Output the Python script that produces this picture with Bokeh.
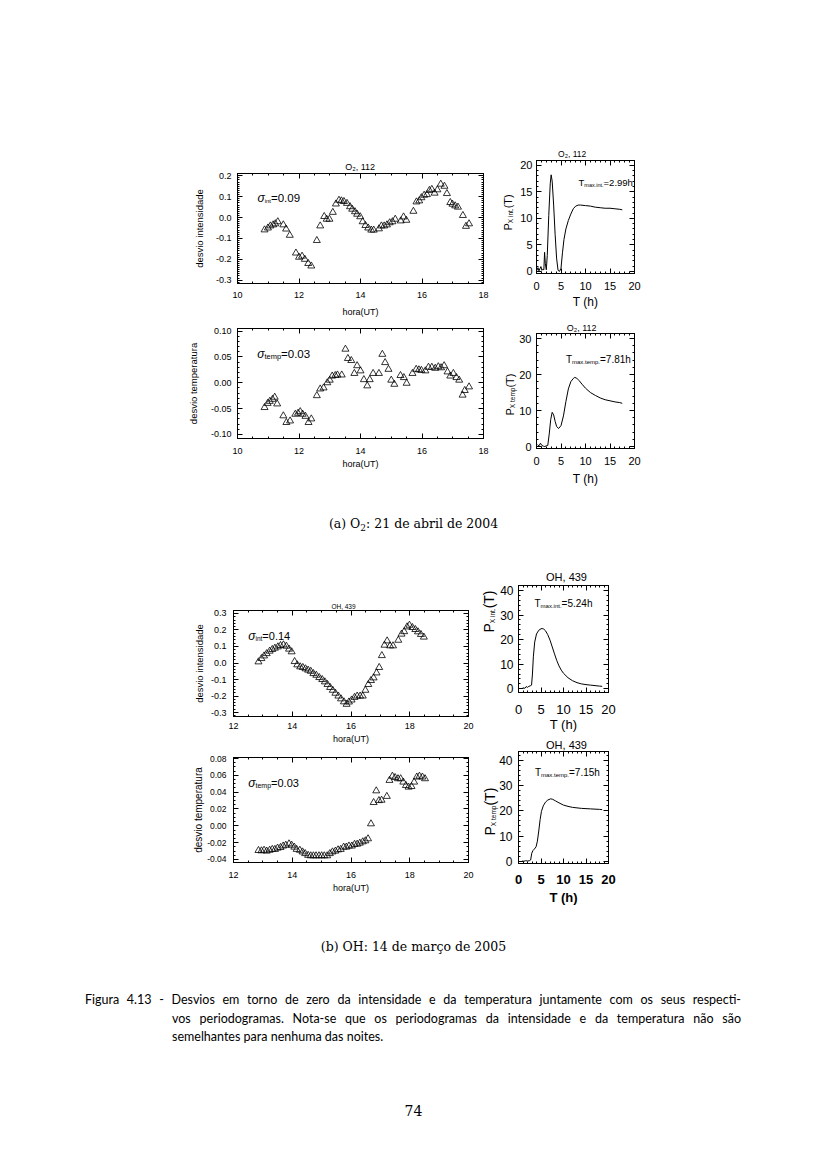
from math import pi
import numpy as np
from bokeh.plotting import figure
from bokeh.models import Label, LinearAxis, FixedTicker, PrintfTickFormatter, Range1d, Spacer, Div
from bokeh.layouts import column, row
from bokeh.embed import file_html
from bokeh.resources import INLINE

FONT = "Liberation Sans"

# ---------------- data ----------------
# (a) O2, 21 April 2004 - intensity deviation
o2_int_hour = [10.88, 10.99, 11.07, 11.16, 11.23, 11.31, 11.49, 11.58, 11.70, 11.90, 12.00, 12.10, 12.19,
               12.30, 12.40, 12.58, 12.69, 12.82, 12.90, 12.99, 13.10, 13.20, 13.30, 13.38, 13.46, 13.56,
               13.66, 13.73, 13.82, 13.89, 13.99, 14.07, 14.16, 14.25, 14.35, 14.43, 14.60, 14.68, 14.77,
               14.86, 14.95, 15.04, 15.13, 15.31, 15.40, 15.49, 15.72, 15.82, 15.91, 15.98, 16.07, 16.16,
               16.24, 16.32, 16.41, 16.50, 16.61, 16.73, 16.81, 16.92, 16.99, 17.08, 17.17, 17.33, 17.43, 17.53]
o2_int_dev = [-0.059, -0.050, -0.040, -0.035, -0.030, -0.020, -0.035, -0.055, -0.085, -0.170, -0.190, -0.185,
              -0.200, -0.220, -0.232, -0.110, -0.040, 0.005, -0.008, -0.008, 0.025, 0.065, 0.083, 0.080,
              0.077, 0.068, 0.052, 0.040, 0.028, 0.016, 0.004, -0.020, -0.038, -0.050, -0.060, -0.060,
              -0.054, -0.040, -0.040, -0.035, -0.025, -0.020, -0.008, -0.016, 0.003, -0.013, 0.030, 0.075,
              0.080, 0.095, 0.107, 0.110, 0.130, 0.135, 0.117, 0.133, 0.160, 0.150, 0.115, 0.072, 0.064,
              0.056, 0.050, 0.010, -0.042, -0.030]
# (a) O2 - temperature deviation
o2_temp_hour = [10.88, 10.98, 11.05, 11.14, 11.21, 11.29, 11.49, 11.59, 11.71, 11.88, 11.97, 12.04, 12.12,
                12.21, 12.31, 12.40, 12.58, 12.69, 12.80, 12.92, 13.00, 13.08, 13.18, 13.25, 13.39, 13.51,
                13.59, 13.70, 13.80, 13.89, 14.00, 14.11, 14.22, 14.30, 14.41, 14.60, 14.71, 14.80, 14.91,
                15.00, 15.10, 15.30, 15.41, 15.50, 15.69, 15.81, 15.90, 15.98, 16.11, 16.21, 16.32, 16.43,
                16.53, 16.62, 16.72, 16.83, 16.92, 17.02, 17.12, 17.21, 17.32, 17.39, 17.53]
o2_temp_dev = [-0.048, -0.040, -0.036, -0.032, -0.028, -0.041, -0.064, -0.077, -0.074, -0.061, -0.059, -0.056,
               -0.061, -0.065, -0.077, -0.070, -0.025, -0.012, -0.010, 0.000, 0.005, 0.013, 0.014, 0.015,
               0.015, 0.065, 0.047, 0.043, 0.018, 0.033, 0.023, 0.006, -0.006, 0.006, 0.018, 0.018, 0.055,
               0.039, 0.026, 0.005, -0.003, 0.014, 0.010, -0.001, 0.018, 0.026, 0.025, 0.024, 0.023, 0.030,
               0.030, 0.028, 0.031, 0.029, 0.033, 0.021, 0.013, 0.018, 0.010, 0.005, -0.024, -0.015, -0.008]
# (a) O2 - periodograms
o2_int_period = [0.1, 0.3, 0.5, 0.7, 0.9, 1.1, 1.3, 1.5, 1.65, 1.8, 2.0, 2.2, 2.5, 2.8, 2.99, 3.2, 3.5, 3.8,
                 4.1, 4.4, 4.7, 5.0, 5.3, 5.6, 6.0, 6.5, 7.0, 7.5, 8.0, 8.5, 9.0, 10.0, 11.0, 12.0, 13.0,
                 14.0, 15.0, 16.0, 17.0, 17.5]
o2_int_power = [0.2, 0.7, 0.1, 0.5, 0.9, 0.2, 0.4, 0.3, 3.6, 1.5, 0.3, 3.0, 10.5, 16.5, 18.2, 17.0, 12.5, 7.0,
                2.5, 0.2, 0.0, 0.6, 3.5, 6.0, 8.0, 9.6, 10.8, 11.8, 12.3, 12.5, 12.5, 12.4, 12.3, 12.1, 12.0,
                11.9, 11.9, 11.8, 11.7, 11.6]
o2_temp_period = [0.2, 0.5, 0.8, 1.1, 1.4, 1.7, 2.0, 2.3, 2.6, 2.9, 3.2, 3.5, 3.8, 4.1, 4.5, 5.0, 5.5, 6.0,
                  6.5, 7.0, 7.5, 7.81, 8.2, 8.7, 9.3, 10.0, 11.0, 12.0, 13.0, 14.0, 15.0, 16.0, 17.0, 17.5]
o2_temp_power = [0.5, 0.2, 0.9, 0.3, 0.1, 0.0, 0.2, 0.3, 3.5, 7.5, 9.5, 8.8, 7.0, 5.6, 5.0, 5.8, 8.5, 12.5,
                 16.0, 18.0, 18.9, 19.2, 19.0, 18.3, 17.3, 16.2, 15.0, 14.2, 13.5, 13.0, 12.7, 12.4, 12.2, 12.0]

# (b) OH, 14 March 2005 - intensity deviation
oh_int_hour = [12.85, 12.95, 13.04, 13.13, 13.23, 13.32, 13.41, 13.51, 13.60, 13.70, 13.80, 13.89, 13.98,
               14.08, 14.17, 14.27, 14.36, 14.45, 14.54, 14.63, 14.72, 14.82, 14.92, 15.02, 15.11, 15.20,
               15.29, 15.38, 15.47, 15.57, 15.66, 15.76, 15.85, 15.93, 16.02, 16.12, 16.21, 16.31, 16.40,
               16.49, 16.59, 16.68, 16.77, 16.87, 16.96, 17.05, 17.14, 17.23, 17.33, 17.43, 17.61, 17.72,
               17.81, 17.91, 17.99, 18.09, 18.19, 18.28, 18.38, 18.48]
oh_int_dev = [0.007, 0.027, 0.043, 0.057, 0.072, 0.082, 0.090, 0.098, 0.106, 0.110, 0.102, 0.084, 0.068,
              0.009, -0.011, -0.023, -0.027, -0.035, -0.043, -0.050, -0.064, -0.074, -0.088, -0.100, -0.114,
              -0.130, -0.148, -0.165, -0.183, -0.200, -0.217, -0.235, -0.250, -0.236, -0.224, -0.208, -0.200,
              -0.200, -0.200, -0.165, -0.130, -0.106, -0.090, -0.060, -0.027, 0.045, 0.108, 0.134, 0.104,
              0.104, 0.138, 0.175, 0.190, 0.219, 0.229, 0.215, 0.203, 0.189, 0.173, 0.157]
# (b) OH - temperature deviation
oh_temp_hour = [12.85, 12.95, 13.04, 13.13, 13.23, 13.32, 13.41, 13.50, 13.60, 13.69, 13.78, 13.89, 13.98,
                14.07, 14.15, 14.26, 14.35, 14.44, 14.54, 14.63, 14.72, 14.81, 14.91, 15.00, 15.09, 15.19,
                15.28, 15.37, 15.47, 15.56, 15.65, 15.75, 15.84, 15.93, 16.03, 16.12, 16.21, 16.30, 16.40,
                16.49, 16.58, 16.68, 16.77, 16.86, 16.95, 17.04, 17.22, 17.31, 17.41, 17.50, 17.60, 17.69,
                17.78, 17.87, 17.96, 18.06, 18.15, 18.24, 18.33, 18.43, 18.52]
oh_temp_dev = [-0.0293, -0.0297, -0.0290, -0.0300, -0.0290, -0.0280, -0.0280, -0.0265, -0.0257, -0.0240,
               -0.0230, -0.0214, -0.0230, -0.0253, -0.0280, -0.0290, -0.0310, -0.0330, -0.0350, -0.0356,
               -0.0356, -0.0356, -0.0356, -0.0356, -0.0356, -0.0356, -0.0330, -0.0310, -0.0300, -0.0285,
               -0.0280, -0.0253, -0.0253, -0.0240, -0.0240, -0.0220, -0.0218, -0.0206, -0.0190, -0.0178,
               -0.0154, 0.0024, 0.0277, 0.0416, 0.0300, 0.0305, 0.0350, 0.0540, 0.0590, 0.0574, 0.0560,
               0.0560, 0.0520, 0.0480, 0.0460, 0.0467, 0.0520, 0.0580, 0.0590, 0.0580, 0.0560]
# (b) OH - periodograms
oh_int_period = [0.8, 1.1, 1.4, 1.7, 2.0, 2.3, 2.6, 2.9, 3.1, 3.3, 3.6, 4.0, 4.5, 5.0, 5.24, 5.6, 6.0, 6.5,
                 7.0, 7.5, 8.0, 8.5, 9.0, 9.5, 10.0, 11.0, 12.0, 13.0, 14.0, 15.0, 16.0, 17.0, 18.0, 18.6]
oh_int_power = [0.1, 0.4, 0.2, 0.9, 0.6, 1.0, 1.2, 1.5, 6.0, 13.0, 19.0, 22.3, 23.8, 24.4, 24.5, 24.3, 23.6,
                22.0, 19.8, 17.0, 14.2, 11.5, 9.3, 7.6, 6.3, 4.5, 3.3, 2.5, 2.0, 1.7, 1.5, 1.3, 1.1, 1.0]
oh_temp_period = [0.8, 1.2, 1.6, 2.0, 2.4, 2.7, 2.95, 3.2, 3.5, 3.9, 4.2, 4.5, 4.8, 5.1, 5.5, 6.0, 6.5, 7.15,
                  7.6, 8.2, 9.0, 10.0, 11.0, 12.0, 13.0, 14.0, 15.0, 16.0, 17.0, 18.0, 18.6]
oh_temp_power = [0.1, 0.0, 0.2, 0.1, 0.2, 0.5, 3.2, 4.2, 4.8, 5.7, 8.0, 12.0, 16.5, 19.8, 22.0, 23.5, 24.3,
                 24.8, 24.6, 24.0, 23.2, 22.3, 21.8, 21.4, 21.2, 21.0, 20.9, 20.8, 20.7, 20.6, 20.5]

# tick labels
o2_hour_ticks = [10, 12, 14, 16, 18]
oh_hour_ticks = [12, 14, 16, 18, 20]
period_ticks = [0, 5, 10, 15, 20]
o2_int_ticks = [-0.3, -0.2, -0.1, 0.0, 0.1, 0.2]
o2_temp_ticks = [-0.10, -0.05, 0.00, 0.05, 0.10]
oh_int_ticks = [-0.3, -0.2, -0.1, 0.0, 0.1, 0.2, 0.3]
oh_temp_ticks = [-0.04, -0.02, 0.00, 0.02, 0.04, 0.06, 0.08]
o2_int_pow_ticks = [0, 5, 10, 15, 20]
o2_temp_pow_ticks = [0, 10, 20, 30]
oh_pow_ticks = [0, 10, 20, 30, 40]

# ---------------- layout geometry (page pixels) ----------------
SPEC = {
    "A1": dict(box=(184, 151, 495, 320), frame=(233, 173, 483, 283), xr=(10, 18), yr=(-0.316, 0.211)),
    "A2": dict(box=(184, 320, 495, 475), frame=(233, 328, 483, 438), xr=(10, 18), yr=(-0.108, 0.105)),
    "A3": dict(box=(498, 144, 700, 312), frame=(536, 160, 634, 273), xr=(0, 20), yr=(-0.4, 20.9)),
    "A4": dict(box=(498, 312, 700, 490), frame=(534, 333, 634, 448), xr=(0, 20), yr=(-0.55, 31.4)),
    "B1": dict(box=(190, 592, 474, 748), frame=(230, 610, 468, 716), xr=(12, 20), yr=(-0.324, 0.318)),
    "B2": dict(box=(190, 748, 474, 898), frame=(230, 757, 468, 862), xr=(12, 20), yr=(-0.0436, 0.0812)),
    "B3": dict(box=(474, 566, 690, 736), frame=(518, 585, 608, 692), xr=(0, 20), yr=(-1.5, 42)),
    "B4": dict(box=(474, 736, 690, 910), frame=(517, 751, 612, 863), xr=(0, 20), yr=(-0.9, 43.6)),
}

HW = {' ': 278, '(': 333, ')': 333, ',': 278, '-': 333, '.': 278, '=': 584, '₂': 400,
      'A': 667, 'H': 722, 'O': 778, 'P': 667, 'T': 611, 'X': 667, 'U': 722,
      'a': 556, 'd': 556, 'e': 556, 'h': 556, 'i': 222, 'm': 833, 'n': 556, 'o': 556,
      'p': 556, 'r': 333, 's': 500, 't': 278, 'v': 500, 'x': 500, 'σ': 600}


def tw(s, size):
    return sum(HW.get(c, 556) for c in s) * size / 1000.0


def page_to_data(sp, px, py):
    fl, ft, fr, fb = sp["frame"]
    x0, x1 = sp["xr"]
    y0, y1 = sp["yr"]
    return x0 + (px - fl) / (fr - fl) * (x1 - x0), y1 - (py - ft) / (fb - ft) * (y1 - y0)


def rich(p, sp, px, py, parts, vertical=False, center=False, place="center"):
    total = sum(tw(t, s) for t, s, d, st in parts)
    if center:
        if vertical:
            py += total / 2
        else:
            px -= total / 2
    x, y = page_to_data(sp, px, py)
    adv = 0.0
    for t, s, d, st in parts:
        kw = dict(x=x, y=y, text=t, text_font=FONT, text_font_size=f"{s}px", text_font_style=st,
                  text_color="black", text_align="left", text_baseline="alphabetic")
        if vertical:
            lab = Label(angle=pi / 2, x_offset=d, y_offset=adv, **kw)
        else:
            lab = Label(x_offset=adv, y_offset=-d, **kw)
        p.add_layout(lab, place)
        adv += tw(t, s)


def setup_axis(ax, ticks, minor, fmt, fs, std, show=True, bold=False):
    ax.ticker = FixedTicker(ticks=ticks, minor_ticks=minor)
    ax.formatter = PrintfTickFormatter(format=fmt)
    ax.major_tick_in = 5
    ax.major_tick_out = 0
    ax.minor_tick_in = 2
    ax.minor_tick_out = 0
    ax.axis_line_color = "black"
    ax.major_tick_line_color = "black"
    ax.minor_tick_line_color = "black"
    ax.major_label_text_font = FONT
    if show:
        ax.major_label_text_color = "black"
        ax.major_label_text_font_size = f"{fs}px"
        ax.major_label_standoff = std
        ax.major_label_text_font_style = "bold" if bold else "normal"
    else:
        ax.major_label_text_color = None
        ax.major_label_text_alpha = 0
        ax.major_label_text_font_size = "1px"
        ax.major_label_standoff = 0


def set_label(ax, text, fs, std, bold=False):
    ax.axis_label = text
    ax.axis_label_text_font = FONT
    ax.axis_label_text_font_size = f"{fs}px"
    ax.axis_label_text_font_style = "bold" if bold else "normal"
    ax.axis_label_text_color = "black"
    ax.axis_label_standoff = std


def set_title(p, sp, text, fs, center_x, standoff):
    fl = sp["frame"][0]
    left = center_x - tw(text, fs) / 2
    p.title.text = text
    p.title.text_font = FONT
    p.title.text_font_size = f"{fs}px"
    p.title.text_font_style = "normal"
    p.title.text_color = "black"
    p.title.align = "left"
    p.title.offset = left - fl
    p.title.standoff = standoff


def make_fig(sp, xt, xm, yt, ym, xfmt, yfmt, xfs, yfs, xstd, ystd, xbold=False):
    L, T, R, B = sp["box"]
    fl, ft, fr, fb = sp["frame"]
    p = figure(width=R - L, height=B - T, x_range=Range1d(*sp["xr"]), y_range=Range1d(*sp["yr"]),
               output_backend="svg", toolbar_location=None, tools="",
               min_border_left=fl - L, min_border_right=R - fr, min_border_top=ft - T,
               min_border_bottom=B - fb, background_fill_color="white", border_fill_color="white",
               outline_line_color="black", outline_line_width=1)
    p.xgrid.visible = False
    p.ygrid.visible = False
    top = LinearAxis()
    right = LinearAxis()
    p.add_layout(top, "above")
    p.add_layout(right, "right")
    setup_axis(p.below[0], xt, xm, xfmt, xfs, xstd, True, xbold)
    setup_axis(top, xt, xm, xfmt, xfs, 0, False)
    setup_axis(p.left[0], yt, ym, yfmt, yfs, ystd, True)
    setup_axis(right, yt, ym, yfmt, yfs, 0, False)
    return p


def mticks(a, b, step):
    return [round(v, 4) for v in np.arange(a, b + step / 2, step)]


def triangles(p, x, y):
    p.scatter(x, y, marker="triangle", size=7, fill_color=None, line_color="black", line_width=0.8)


# ---------------- (a) O2 ----------------
sA1 = SPEC["A1"]
pA1 = make_fig(sA1, o2_hour_ticks, mticks(10, 18, 0.5), o2_int_ticks, mticks(-0.31, 0.21, 0.01),
               "%d", "%.1f", 9, 9, 8, 6)
set_label(pA1.below[0], "hora(UT)", 9, 6)
set_label(pA1.left[0], "desvio intensidade", 9.5, 8)
triangles(pA1, o2_int_hour, o2_int_dev)
set_title(pA1, sA1, "O₂, 112", 9, 356, 3)
rich(pA1, sA1, 253.3, 197.7, [("σ", 12, 0, "italic"), ("int", 6, 3, "normal"), ("=0.09", 11.5, 0, "normal")])

sA2 = SPEC["A2"]
pA2 = make_fig(sA2, o2_hour_ticks, mticks(10, 18, 0.5), o2_temp_ticks, mticks(-0.10, 0.10, 0.01),
               "%d", "%.2f", 9, 9, 9, 6)
set_label(pA2.below[0], "hora(UT)", 9, 2)
set_label(pA2.left[0], "desvio temperatura", 9.5, 9)
triangles(pA2, o2_temp_hour, o2_temp_dev)
rich(pA2, sA2, 253, 353.3, [("σ", 12, 0, "italic"), ("temp", 7.5, 3, "normal"), ("=0.03", 11.5, 0, "normal")])

sA3 = SPEC["A3"]
pA3 = make_fig(sA3, period_ticks, mticks(0, 20, 1), o2_int_pow_ticks, mticks(0, 20, 1),
               "%d", "%d", 11, 11, 8, 4)
set_label(pA3.below[0], "T (h)", 12, 2)
pA3.line(o2_int_period, o2_int_power, line_color="black", line_width=1)
set_title(pA3, sA3, "O₂, 112", 8.5, 572, 3)
rich(pA3, sA3, 578, 182.3, [("T", 9.5, 0, "normal"), ("max.int.", 5.5, 2.5, "normal"), ("=2.99h", 9.5, 0, "normal")])
rich(pA3, sA3, 507.3, 230, [("P", 11, 0, "normal"), ("X int.", 6.5, 3, "normal"), ("(T)", 11, 0, "normal")],
     vertical=True, place="right")

sA4 = SPEC["A4"]
pA4 = make_fig(sA4, period_ticks, mticks(0, 20, 1), o2_temp_pow_ticks, mticks(0, 30, 2),
               "%d", "%d", 11, 11, 8, 5)
set_label(pA4.below[0], "T (h)", 12, 4)
pA4.line(o2_temp_period, o2_temp_power, line_color="black", line_width=1)
set_title(pA4, sA4, "O₂, 112", 9, 579.5, 2)
rich(pA4, sA4, 564, 359.3, [("T", 10, 0, "normal"), ("max.temp.", 6, 2.5, "normal"), ("=7.81h", 10, 0, "normal")])
rich(pA4, sA4, 506.7, 415, [("P", 11, 0, "normal"), ("X temp", 6.5, 3, "normal"), ("(T)", 11, 0, "normal")],
     vertical=True, place="right")

# ---------------- (b) OH ----------------
sB1 = SPEC["B1"]
pB1 = make_fig(sB1, oh_hour_ticks, mticks(12, 20, 0.5), oh_int_ticks, mticks(-0.32, 0.32, 0.02),
               "%d", "%.1f", 9, 9, 6, 7)
set_label(pB1.below[0], "hora(UT)", 9, 2)
set_label(pB1.left[0], "desvio intensidade", 9.5, 3)
triangles(pB1, oh_int_hour, oh_int_dev)
set_title(pB1, sB1, "OH, 439", 6.5, 340, 2)
rich(pB1, sB1, 245, 635, [("σ", 12, 0, "italic"), ("int", 6.5, 3, "normal"), ("=0.14", 11, 0, "normal")])

sB2 = SPEC["B2"]
pB2 = make_fig(sB2, oh_hour_ticks, mticks(12, 20, 0.5), oh_temp_ticks, mticks(-0.04, 0.08, 0.005),
               "%d", "%.2f", 9, 8.5, 9, 7)
set_label(pB2.below[0], "hora(UT)", 9, 2)
set_label(pB2.left[0], "desvio temperatura", 10, 0)
triangles(pB2, oh_temp_hour, oh_temp_dev)
rich(pB2, sB2, 245, 782.3, [("σ", 12, 0, "italic"), ("temp", 7, 3, "normal"), ("=0.03", 11, 0, "normal")])

sB3 = SPEC["B3"]
pB3 = make_fig(sB3, period_ticks, mticks(0, 20, 1), oh_pow_ticks, mticks(0, 42, 2),
               "%d", "%d", 13, 12, 12, 5)
set_label(pB3.below[0], "T (h)", 13, 0)
pB3.line(oh_int_period, oh_int_power, line_color="black", line_width=1)
set_title(pB3, sB3, "OH, 439", 11, 566, 5)
rich(pB3, sB3, 534, 603.3, [("T", 10, 0, "normal"), ("max.int.", 6, 2.5, "normal"), ("=5.24h", 10, 0, "normal")])
rich(pB3, sB3, 488.3, 632, [("P", 14, 0, "normal"), ("X int.", 6.5, 3.5, "normal"), ("(T)", 14, 0, "normal")],
     vertical=True, place="right")

sB4 = SPEC["B4"]
pB4 = make_fig(sB4, period_ticks, mticks(0, 20, 1), oh_pow_ticks, mticks(0, 42, 2),
               "%d", "%d", 13, 12, 11, 6, xbold=True)
set_label(pB4.below[0], "T (h)", 13, 3, bold=True)
pB4.line(oh_temp_period, oh_temp_power, line_color="black", line_width=1)
set_title(pB4, sB4, "OH, 439", 11, 565, 1)
rich(pB4, sB4, 534.3, 771.7, [("T", 10, 0, "normal"), ("max.temp.", 6, 2.5, "normal"), ("=7.15h", 10, 0, "normal")])
rich(pB4, sB4, 487, 835, [("P", 14, 0, "normal"), ("X temp", 6.5, 3.5, "normal"), ("(T)", 14, 0, "normal")],
     vertical=True, place="right")


# ---------------- page text ----------------
def sp(w, h):
    return Spacer(width=w, height=h, margin=0)


SERIF = "'DejaVu Serif', serif"
divA = Div(text=f'<div style="font-family:{SERIF};font-size:12.5px;line-height:20px;text-align:center;'
                f'color:#000;width:811px;">(a) O<sub style="font-size:9px;line-height:0;vertical-align:-3px;">2</sub>'
                f': 21 de abril de 2004</div>', width=811, height=20, margin=0)
divB = Div(text=f'<div style="font-family:{SERIF};font-size:12.5px;line-height:20px;text-align:center;'
                f'color:#000;width:811px;">(b) OH: 14 de março de 2005</div>', width=811, height=20, margin=0)
cap_style = "font-family:Lato, sans-serif;font-weight:400;font-size:12.5px;line-height:18.5px;color:#000;"
divCap = Div(text=(
    f'<div style="{cap_style}width:656px;margin-left:77px;">'
    '<div style="text-align:justify;text-align-last:justify;">Figura 4.13 - Desvios em torno de zero da '
    'intensidade e da temperatura juntamente com os seus respecti-</div>'
    '<div style="margin-left:87px;text-align:justify;text-align-last:justify;">vos periodogramas. Nota-se que '
    'os periodogramas da intensidade e da temperatura não são</div>'
    '<div style="margin-left:87px;">semelhantes para nenhuma das noites.</div></div>'),
    width=811, height=56, margin=0)
divNum = Div(text=f'<div style="font-family:{SERIF};font-size:14px;line-height:20px;text-align:center;'
                  f'color:#000;width:811px;">74</div>', width=811, height=20, margin=0)

colA_left = column(sp(311, 7), pA1, pA2, spacing=0)
colA_right = column(pA3, pA4, spacing=0)
rowA = row(sp(176, 1), colA_left, sp(3, 1), colA_right, spacing=0)
colB_left = column(sp(284, 26), pB1, pB2, spacing=0)
colB_right = column(pB3, pB4, spacing=0)
rowB = row(sp(182, 1), colB_left, colB_right, spacing=0)

inner = column(sp(811, 144), rowA, sp(811, 24), divA, sp(811, 32), rowB, sp(811, 27), divB,
               sp(811, 34), divCap, sp(811, 54), divNum, spacing=0)
page = row(sp(8, 1), inner, spacing=0)

open("out.html", "w").write(file_html(page, INLINE))
